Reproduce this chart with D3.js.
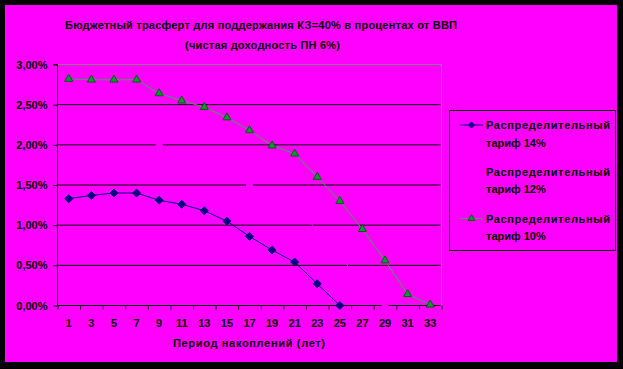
<!DOCTYPE html>
<html><head><meta charset="utf-8">
<script src="https://cdn.jsdelivr.net/npm/d3@7"></script>
<style>
body{margin:0;background:#000}
svg{display:block}
text{font-family:"Liberation Sans",Arial,sans-serif;font-weight:bold;font-size:11px;fill:#000}
</style>
</head><body><svg id="c" width="623" height="369"></svg>
<script>
const categories = [1,3,5,7,9,11,13,15,17,19,21,23,25,27,29,31,33];
const tariff14 = [1.33,1.37,1.40,1.40,1.31,1.26,1.18,1.05,0.86,0.69,0.54,0.27,0.00,null,null,null,null];
const tariff12 = [2.10,2.10,2.12,2.12,2.00,1.92,1.80,1.66,1.50,1.40,1.30,0.92,0.62,0.26,0.00,null,null];
const tariff10 = [2.82,2.81,2.81,2.81,2.64,2.55,2.47,2.34,2.18,1.99,1.89,1.60,1.30,0.95,0.56,0.14,0.01];
const yTicks = [0,0.5,1,1.5,2,2.5,3];
const seriesNames = ["Распределительный тариф 14%","Распределительный тариф 12%","Распределительный тариф 10%"];
const titleLines = ["Бюджетный трасферт для поддержания КЗ=40% в процентах от ВВП","(чистая доходность ПН 6%)"];
const xTitle = "Период накоплений (лет)";

const svg = d3.select("#c");
svg.append("rect").attr("x",5).attr("y",5).attr("width",612).attr("height",357).attr("fill","#FF00FF");

const L=57.5,R=441.5,T=64.5,B=305.5;
const x = d3.scaleBand().domain(categories).range([L,R]).padding(0);
const cx = c => x(c)+x.bandwidth()/2;
const y = d3.scaleLinear().domain([0,3]).range([B,T]);

// gridlines
svg.append("g").selectAll("line").data(yTicks.filter(v=>v>0&&v<3)).join("line")
  .attr("x1",L).attr("x2",R-1).attr("y1",d=>y(d)).attr("y2",d=>y(d))
  .attr("stroke","#000").attr("stroke-width",1);
// plot border (top & right gray)
svg.append("path").attr("d",`M${L},${T}H${R}V${B}`).attr("fill","none").attr("stroke","#808080");

// y axis
const yAxis = d3.axisLeft(y).tickValues(yTicks).tickSize(4).tickPadding(6)
  .tickFormat(d=>d.toFixed(2).replace(".",",")+"%");
const gy = svg.append("g").attr("transform",`translate(${L},0)`).call(yAxis);
gy.select(".domain").attr("d",`M-4,${T}H0V${B}`).attr("stroke","#000");
gy.selectAll(".tick line").attr("stroke","#000");
gy.selectAll("text").attr("font-family",null).attr("font-size",null).style("font-size","11px");

// x axis ticks at boundaries
const xb = d3.scaleLinear().domain([0,categories.length]).range([L,R]);
const gxb = svg.append("g").attr("transform",`translate(0,${B})`)
  .call(d3.axisBottom(xb).tickValues(d3.range(categories.length+1)).tickSize(4).tickFormat(""));
gxb.select(".domain").attr("d",`M${L},0H${R-1}`).attr("stroke","#000");
gxb.selectAll(".tick line").attr("stroke","#000");
// x labels
const gx = svg.append("g").attr("transform",`translate(0,${B})`)
  .call(d3.axisBottom(x).tickSize(0).tickPadding(14));
gx.select(".domain").remove();
gx.selectAll("text").attr("font-family",null).attr("font-size",null).style("font-size","11px");

// series
const line = d3.line().defined(d=>d.v!=null).x(d=>cx(d.c)).y(d=>y(d.v));
const mk = arr => categories.map((c,i)=>({c,v:arr[i]}));
const diamond = "M0,-4L4,0L0,4L-4,0Z";
const square = "M-3,-3H3V3H-3Z";
const tri = d3.symbol(d3.symbolTriangle,28)();

function drawSeries(arr,color,shape,fill,stroke){
  const data = mk(arr);
  svg.append("path").datum(data).attr("d",line).attr("fill","none").attr("stroke",color).attr("stroke-width",1);
  svg.append("g").selectAll("path").data(data.filter(d=>d.v!=null)).join("path")
    .attr("transform",d=>`translate(${cx(d.c)},${y(d.v)})`).attr("d",shape)
    .attr("fill",fill).attr("stroke",stroke).attr("stroke-width",1);
}
drawSeries(tariff14,"#000080",diamond,"#000080","#000080");
drawSeries(tariff12,"#FF00FF",square,"#FF00FF","#FF00FF");
drawSeries(tariff10,"#33AA55",tri,"#139538","#005A10");

// title
svg.append("text").attr("x",261).attr("y",28.5).attr("text-anchor","middle")
  .attr("textLength",392).attr("lengthAdjust","spacing").text(titleLines[0]);
svg.append("text").attr("x",262.5).attr("y",49).attr("text-anchor","middle")
  .attr("textLength",155).attr("lengthAdjust","spacing").text(titleLines[1]);
svg.append("text").attr("x",249).attr("y",347).attr("text-anchor","middle")
  .attr("textLength",152).attr("lengthAdjust","spacing").text(xTitle);

// legend
const lg = svg.append("g");
lg.append("rect").attr("x",449.5).attr("y",110.5).attr("width",166).attr("height",140).attr("fill","none").attr("stroke","#000");
const legendRows = [
  {name:seriesNames[0],color:"#000080",shape:"M0,-3L3,0L0,3L-3,0Z",fill:"#000080",stroke:"#000080",y:125},
  {name:seriesNames[1],color:"#FF00FF",shape:"M-2,-2H2V2H-2Z",fill:"#FF00FF",stroke:"#FF00FF",y:171.5},
  {name:seriesNames[2],color:"#33AA55",shape:d3.symbol(d3.symbolTriangle,20)(),fill:"#139538",stroke:"#005A10",y:218.5}
];
legendRows.forEach(r=>{
  lg.append("line").attr("x1",460).attr("x2",483).attr("y1",r.y).attr("y2",r.y).attr("stroke",r.color);
  lg.append("path").attr("transform",`translate(471.5,${r.y})`).attr("d",r.shape).attr("fill",r.fill).attr("stroke",r.stroke);
  const parts = r.name.split(" ");
  lg.append("text").attr("x",486).attr("y",r.y+4)
    .attr("textLength",124).attr("lengthAdjust","spacing").text(parts[0]);
  lg.append("text").attr("x",486).attr("y",r.y+21.5).text(parts.slice(1).join(" "));
});
</script></body></html>
